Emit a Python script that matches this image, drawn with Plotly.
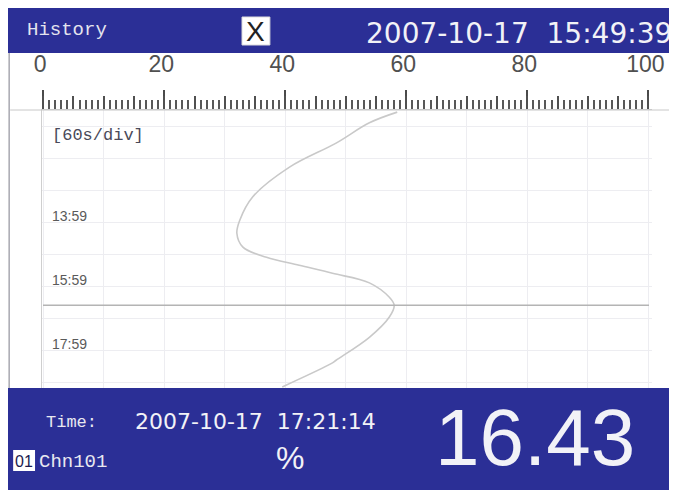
import plotly.graph_objects as go

# ---------------- data ----------------
# curve: channel value (%) vs time (seconds of the displayed window)
curve_value = [58.5, 53.9, 48.4, 40.7, 34.6, 32.5, 32.0, 33.0, 36.9, 42.3, 47.8,
               53.9, 57.2, 58.0, 57.2, 53.9, 48.4, 47.8, 39.5]
curve_time = [633, 653, 691, 736, 792, 835, 860, 886, 905, 920, 935,
              953, 980, 995, 1017, 1055, 1098, 1103, 1148]

time_tick_vals = [839, 959, 1079]
time_tick_text = ["13:59", "15:59", "17:59"]
cursor_time = 995

scale_ticks = [0, 20, 40, 60, 80, 100]
scale_text = ["0", "20", "40", "60", "80", "100"]

title_text = "History"
header_time = "2007-10-17  15:49:39"
div_text = "[60s/div]"
time_label = "Time:"
cursor_stamp = "2007-10-17  17:21:14"
chan_no = "01"
chan_name = "Chn101"
unit = "%"
reading = "16.43"

# ---------------- layout helpers ----------------
OFF = 8                       # page body margin offset
W, H = 677 - OFF, 490 - OFF
L, R, T, B = 42, 655, 110, 388   # plot area in reference pixels


def fx(px):
    return (px - L) / (R - L)


def fy(py):
    return (B - py) / (B - T)


BLUE = "#2b2f96"
WHITE = "#f2f2f7"
MONO = "Liberation Mono, Courier New, monospace"
SANS = "Liberation Sans, Arial, sans-serif"
WIDE = "DejaVu Sans, Verdana, sans-serif"

fig = go.Figure()

fig.add_trace(go.Scatter(
    x=curve_value, y=curve_time, mode="lines",
    line=dict(color="#c9c9c9", width=1.6, shape="spline", smoothing=1.0),
    showlegend=False, hoverinfo="skip"))

# dummy trace to materialize overlay axis
fig.add_trace(go.Scatter(x=[None], y=[None], xaxis="x2", yaxis="y",
                         showlegend=False, hoverinfo="skip"))

xr = [-0.2, 100.6]

fig.update_layout(
    width=W, height=H,
    margin=dict(l=L - OFF, r=677 - R, t=T - OFF, b=490 - B),
    paper_bgcolor="white", plot_bgcolor="white",
    xaxis=dict(
        range=xr, side="top", tickvals=scale_ticks, ticktext=scale_text,
        ticks="outside", ticklen=19, tickwidth=1.8, tickcolor="#4a4a4a",
        ticklabelstandoff=9, ticklabelshift=-3,
        tickfont=dict(family=SANS, size=23, color="#505050"),
        showgrid=False, zeroline=False,
        showline=True, linecolor="#c8c8c8", linewidth=1,
        minor=dict(dtick=1, tick0=0, ticks="outside", ticklen=9,
                   tickwidth=1.7, tickcolor="#585858", showgrid=False),
        fixedrange=True,
    ),
    xaxis2=dict(
        range=xr, overlaying="x", side="top", anchor="y",
        dtick=10, tick0=0, ticks="outside", ticklen=13, tickwidth=1.8,
        tickcolor="#505050", showticklabels=False,
        showgrid=True, gridcolor="#ededf1", gridwidth=1, zeroline=False,
        minor=dict(dtick=5, tick0=0, ticks="outside", ticklen=13,
                   tickwidth=1.8, tickcolor="#505050", showgrid=False),
    ),
    yaxis=dict(
        range=[1150, 629], tickvals=time_tick_vals, ticks="",
        showticklabels=False,
        showgrid=True, gridcolor="#ededf1", gridwidth=1, zeroline=False,
        showline=True, linecolor="#cfcfcf", linewidth=1.2,
        minor=dict(tick0=839, dtick=60, showgrid=True, gridcolor="#ededf1",
                   gridwidth=1, ticks=""),
        fixedrange=True,
    ),
)

# time labels sitting just above their grid lines
for tv, tt in zip(time_tick_vals, time_tick_text):
    fig.add_annotation(text=tt, x=fx(50), y=tv, xref="paper", yref="y",
                       xanchor="left", yanchor="bottom", showarrow=False,
                       yshift=-4, font=dict(family=SANS, size=14, color="#5a5a5a"))

shapes = [
    # header bar
    dict(type="rect", xref="paper", yref="paper", x0=fx(0), x1=fx(690),
         y0=fy(53), y1=fy(3), fillcolor=BLUE, line=dict(width=0), layer="above"),
    # footer bar
    dict(type="rect", xref="paper", yref="paper", x0=fx(0), x1=fx(690),
         y0=fy(500), y1=fy(388), fillcolor=BLUE, line=dict(width=0), layer="above"),
    # close box
    dict(type="rect", xref="paper", yref="paper", x0=fx(243), x1=fx(271),
         y0=fy(45), y1=fy(17), fillcolor="white", line=dict(color="#dddddd", width=1),
         layer="above"),
    # channel number box
    dict(type="rect", xref="paper", yref="paper", x0=fx(13), x1=fx(35),
         y0=fy(471), y1=fy(450), fillcolor="white", line=dict(width=0), layer="above"),
    # panel frame left / right
    dict(type="line", xref="paper", yref="paper", x0=fx(9), x1=fx(9),
         y0=fy(388), y1=fy(53), line=dict(color="#a8a8b0", width=1.5)),
    dict(type="line", xref="paper", yref="paper", x0=fx(675), x1=fx(675),
         y0=fy(388), y1=fy(53), line=dict(color="#9a9ac8", width=1.5)),
    # ruler base extension
    dict(type="line", xref="paper", yref="paper", x0=fx(10), x1=fx(674),
         y0=fy(110), y1=fy(110), line=dict(color="#c8c8c8", width=1)),
    # cursor line
    dict(type="line", xref="paper", yref="y", x0=fx(43), x1=fx(652),
         y0=cursor_time, y1=cursor_time, line=dict(color="#b4b4b4", width=1.5)),
]
fig.update_layout(shapes=shapes)


def ann(text, px, py, family, size, color, xanchor="left"):
    fig.add_annotation(text=text, x=fx(px), y=fy(py), xref="paper", yref="paper",
                       xanchor=xanchor, yanchor="middle", showarrow=False,
                       font=dict(family=family, size=size, color=color))


ann(title_text, 25, 30, MONO, 19, "#e4e4ee")
ann("X", 257, 31, SANS, 28, "#222222", xanchor="center")
ann(header_time, 366, 34, WIDE, 28, WHITE)
ann(div_text, 50, 135, MONO, 17, "#4a4a5a")
ann(time_label, 44, 422, MONO, 17, "#e8e8f0")
ann(cursor_stamp, 133, 421, WIDE, 22, WHITE)
ann(chan_no, 24, 461, SANS, 16, "#1c1c50", xanchor="center")
ann(chan_name, 37, 462, MONO, 19, "#e8e8f0")
ann(unit, 291, 458, SANS, 32, WHITE, xanchor="center")
ann(reading, 537, 437, SANS, 80, WHITE, xanchor="center")

fig.write_html("out.html")
